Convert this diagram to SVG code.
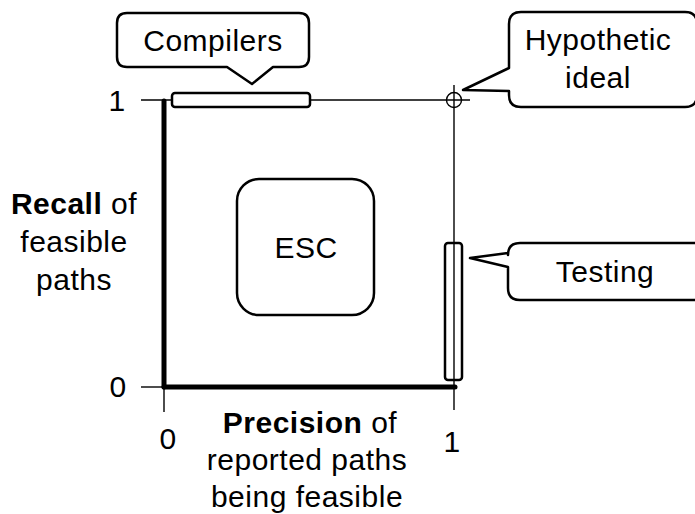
<svg xmlns="http://www.w3.org/2000/svg" width="695" height="514" viewBox="0 0 695 514">
<style>
text{font-family:"Liberation Sans",Arial,sans-serif;font-size:30px;letter-spacing:0.5px;fill:#000;text-anchor:middle}
.b{font-weight:bold}
.thin{stroke:#000;stroke-width:1.4;fill:none}
.thick{stroke:#000;stroke-width:5;fill:none;stroke-linecap:round}
.box{stroke:#000;stroke-width:2.5;fill:#fff;stroke-linejoin:round}
</style>
<rect width="695" height="514" fill="#fff"/>
<g id="axes">
<line class="thin" x1="141" y1="100" x2="470" y2="100"/>
<line class="thin" x1="454" y1="85" x2="454" y2="410"/>
<line class="thin" x1="141" y1="387" x2="164" y2="387"/>
<line class="thin" x1="164" y1="387" x2="164" y2="412"/>
<line class="thick" x1="164" y1="101" x2="164" y2="387"/>
<line class="thick" x1="164" y1="387" x2="455" y2="387"/>
<circle class="thin" cx="454" cy="100" r="7.5" stroke-width="2"/>
<text x="117" y="111">1</text>
<text x="118" y="397">0</text>
<text x="168" y="449">0</text>
<text x="452" y="452">1</text>
<text x="74" y="214"><tspan class="b">Recall</tspan> of</text>
<text x="74" y="252">feasible</text>
<text x="74" y="290">paths</text>
<text x="310" y="433"><tspan class="b">Precision</tspan> of</text>
<text x="307" y="470">reported paths</text>
<text x="307" y="507">being feasible</text>
</g>
<g id="compilers-bar"><rect class="box" x="172" y="93" width="138" height="14" rx="3"/></g>
<g id="testing-bar"><rect class="box" x="445" y="243" width="17" height="137" rx="3" style="fill:none"/></g>
<g id="compilers">
<path class="box" d="M127,13 H299 Q309,13 309,23 V57 Q309,67 299,67 H273 L252,84 L227,67 H127 Q117,67 117,57 V23 Q117,13 127,13 Z"/>
<text x="213" y="51">Compilers</text>
</g>
<g id="ideal">
<path class="box" d="M521,12 H685 Q697,12 697,24 V95 Q697,107 685,107 H521 Q509,107 509,95 V91 L463,90 L509,68 V24 Q509,12 521,12 Z"/>
<text x="598" y="50">Hypothetic</text>
<text x="598" y="88">ideal</text>
</g>
<g id="testing">
<path class="box" d="M520,243 H697 V300 H520 Q508,300 508,288 V267 L470,258 L508,253 V255 Q508,243 520,243 Z"/>
<text x="605" y="282">Testing</text>
</g>
<g id="esc">
<rect class="box" x="237" y="179" width="137" height="136" rx="22"/>
<text x="306" y="258">ESC</text>
</g>
</svg>
